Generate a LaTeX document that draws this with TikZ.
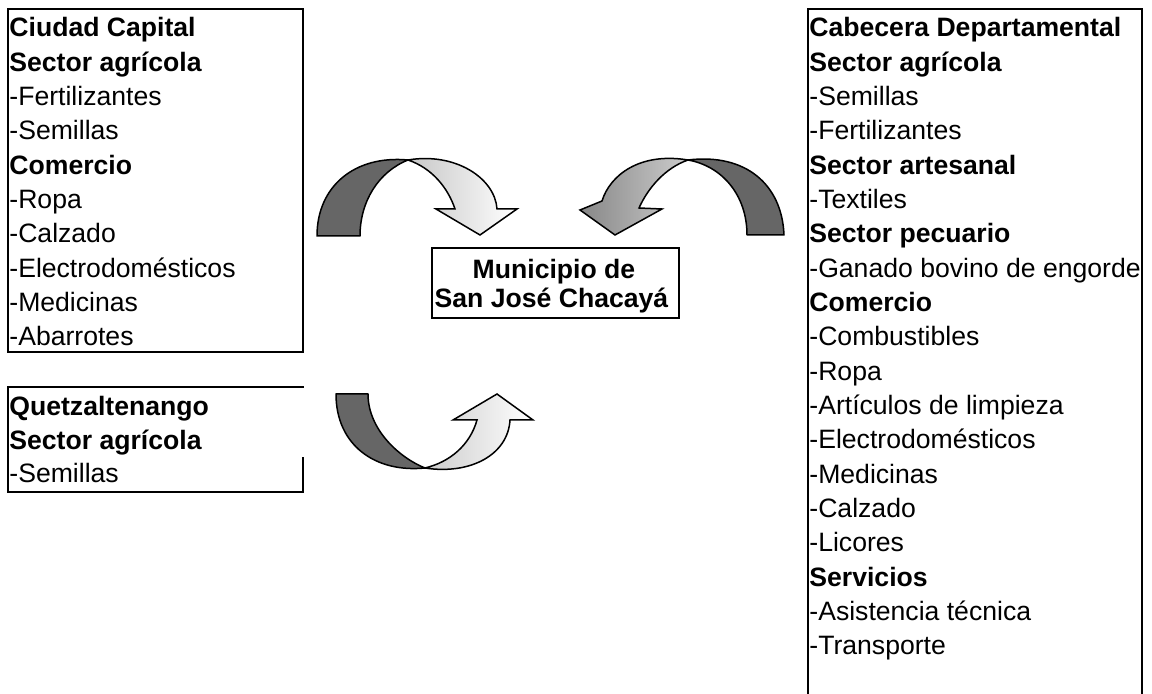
\documentclass[tikz,border=0pt]{standalone}
\usepackage{fontspec}
\setmainfont{Liberation Sans}
\begin{document}
\begin{tikzpicture}[x=0.5pt,y=-0.5pt,
  txt/.style={anchor=base west, inner sep=0pt, font=\fontsize{13.3}{16}\selectfont},
  ctxt/.style={anchor=base, inner sep=0pt, font=\fontsize{13.3}{16}\selectfont\bfseries},
  border/.style={line width=1pt, line cap=rect},
  darkpart/.style={fill=black!60, draw=black, line width=0.75pt, line join=round},
  lightpart/.style={draw=black, line width=0.75pt, line join=miter}]
\useasboundingbox (0,0) rectangle (1152,694);

% ---- Ciudad Capital box
\draw[border] (303,9) -- (8,9) -- (8,352) -- (303,352) -- cycle;
\foreach \t [count=\i] in {\textbf{Ciudad Capital},\textbf{Sector agrícola},-Fertilizantes,-Semillas,\textbf{Comercio},-Ropa,-Calzado,-Electrodomésticos,-Medicinas,-Abarrotes}
  \node[txt] (cap\i) at (9,{37+(\i-1)*34.33}) {\t};

% ---- Quetzaltenango box
\draw[border] (303,387) -- (8,387) -- (8,492) -- (303,492) -- (303,458);
\foreach \t [count=\i] in {\textbf{Quetzaltenango},\textbf{Sector agrícola},-Semillas}
  \node[txt] (que\i) at (9,{416+(\i-1)*33.5}) {\t};

% ---- Cabecera Departamental box
\draw[border] (808,700) -- (808,9) -- (1142,9) -- (1142,700);
\foreach \t [count=\i] in {\textbf{Cabecera Departamental},\textbf{Sector agrícola},-Semillas,-Fertilizantes,\textbf{Sector artesanal},-Textiles,\textbf{Sector pecuario},-Ganado bovino de engorde,\textbf{Comercio},-Combustibles,-Ropa,-Artículos de limpieza,-Electrodomésticos,-Medicinas,-Calzado,-Licores,\textbf{Servicios},-Asistencia técnica,-Transporte}
  \node[txt] (cab\i) at (809,{37+(\i-1)*34.33}) {\t};

% ---- Municipio box
\node[draw, line width=1pt, inner sep=0pt, minimum width=123.5pt, minimum height=35pt] (mun) at (555.5,283) {};
\node[ctxt] (mun1) at (554,279) {Municipio de};
\node[ctxt] (mun2) at (551.5,308) {San José Chacayá};

% ---- curved arrow 1 (Ciudad Capital -> Municipio)
\shadedraw[lightpart, left color=black!22, right color=white]
  (408,160) .. controls (455,152) and (495,178) .. (497,209) -- (517,209) -- (480,235) -- (436,209) -- (455,209)
  .. controls (448,188) and (432,168) .. (408,160) -- cycle;
\filldraw[darkpart]
  (317,236) .. controls (317,186) and (355,155) .. (408,160)
  .. controls (378,172) and (360,202) .. (360,236) -- cycle;

% ---- curved arrow 2 (Cabecera -> Municipio)
\shadedraw[lightpart, left color=black!47, right color=black!20]
  (688,160) .. controls (640,152) and (610,175) .. (602,201) -- (580,210) -- (615,235) -- (662,209) -- (639,208)
  .. controls (648,188) and (665,168) .. (688,160) -- cycle;
\filldraw[darkpart]
  (784,235) .. controls (782,184) and (745,153) .. (688,160)
  .. controls (722,166) and (747,195) .. (747,235) -- cycle;

% ---- curved arrow 3 (Quetzaltenango -> Municipio)
\shadedraw[lightpart, left color=black!20, right color=white]
  (425,468) .. controls (470,475) and (508,455) .. (510,420) -- (533,420) -- (497,394) -- (453,420) -- (477,420)
  .. controls (470,445) and (450,462) .. (425,468) -- cycle;
\filldraw[darkpart]
  (336,394) .. controls (336,445) and (375,473) .. (425,468)
  .. controls (400,458) and (368,430) .. (368,394) -- cycle;
\end{tikzpicture}
\end{document}
